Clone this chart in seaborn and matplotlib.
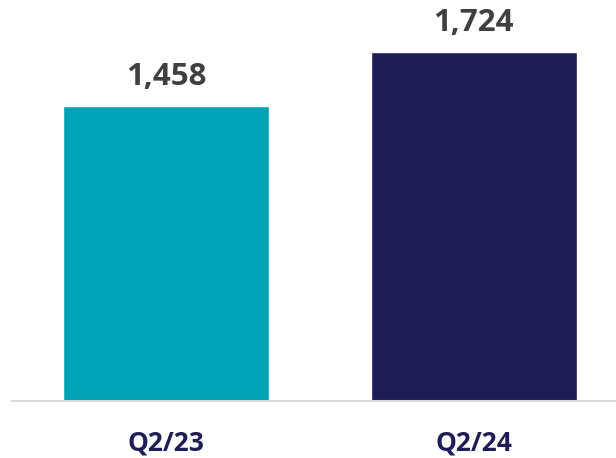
import matplotlib
matplotlib.use("Agg")
import matplotlib.pyplot as plt
import seaborn as sns
import pandas as pd

periods = ["Q2/23", "Q2/24"]
values = [1458, 1724]
bar_colors = ["#00A3B5", "#1F1D55"]

sns.set_theme(style="white")
plt.rcParams["font.family"] = ["Open Sans", "DejaVu Sans"]

df = pd.DataFrame({"period": periods, "value": values})

fig = plt.figure(figsize=(6.16, 4.58), dpi=100)
ax = fig.add_axes([12 / 616, 0.1255, 604 / 616, 1 - 0.1255])

sns.barplot(data=df, x="period", y="value", hue="period",
            palette=bar_colors, width=0.67, legend=False, ax=ax,
            saturation=1)

ax.set_xlim(-0.5008, 1.463)
ax.set_ylim(0, 1981)

for i, v in enumerate(values):
    ax.text(i, v + 70, f"{v:,}", ha="center", va="bottom",
            fontsize=22.5, fontweight="bold", color="#404040")

ax.set_xlabel("")
ax.set_ylabel("")
ax.set_yticks([])
ax.tick_params(axis="x", length=0, pad=21)
for lab in ax.get_xticklabels():
    lab.set_fontsize(19)
    lab.set_fontweight("bold")
    lab.set_color("#1F1D55")

for side in ["top", "left", "right"]:
    ax.spines[side].set_visible(False)
ax.spines["bottom"].set_color("#D9D9D9")
ax.spines["bottom"].set_linewidth(1.5)

fig.savefig("out.png", dpi=100)
